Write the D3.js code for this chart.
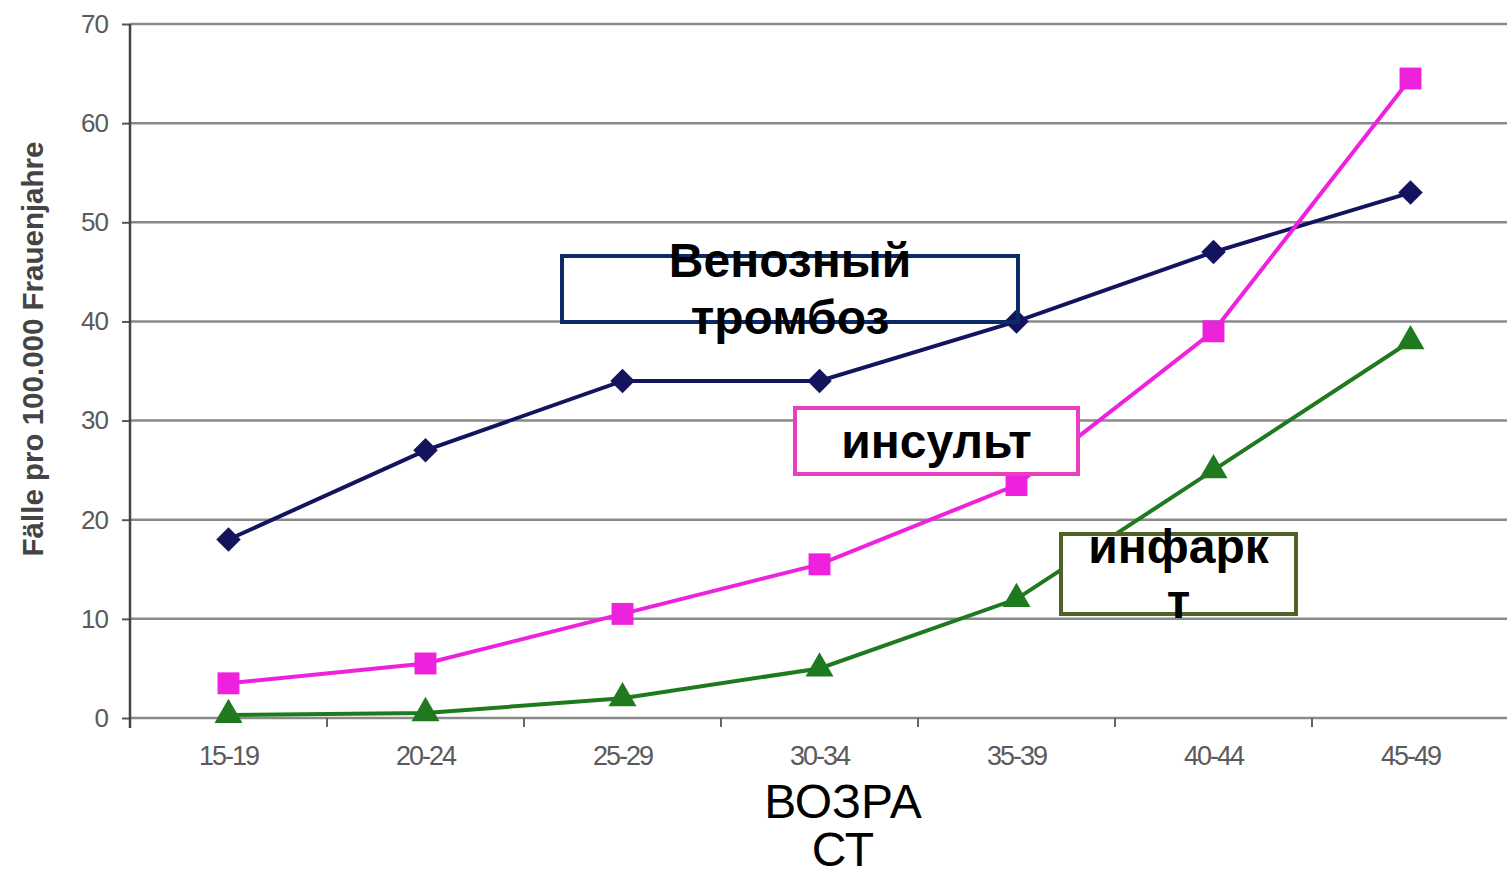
<!DOCTYPE html>
<html>
<head>
<meta charset="utf-8">
<script src="https://cdn.jsdelivr.net/npm/d3@7"></script>
<style>
  body { margin: 0; background: #fff; }
  svg { display: block; font-family: Arial, "Liberation Sans", sans-serif; }
</style>
</head>
<body>
<svg id="chart" width="1507" height="877"></svg>
<script>
// данные
const ages = ['15-19', '20-24', '25-29', '30-34', '35-39', '40-44', '45-49']
const venous = [18, 27, 34, 34, 40, 47, 53]
const stroke = [3.5, 5.5, 10.5, 15.5, 23.5, 39, 64.5]
const infarct = [0.3, 0.5, 2, 5, 12, 25, 38]
const yTicks = [0, 10, 20, 30, 40, 50, 60, 70]

const svg = d3.select('#chart')
const plotLeft = 130, plotRight = 1509, plotTop = 24, plotBottom = 718

const x = d3.scaleBand().domain(ages).range([plotLeft, plotRight])
const y = d3.scaleLinear().domain([0, 70]).range([plotBottom, plotTop])
const cx = d => x(d) + x.bandwidth() / 2

// сетка
svg.append('g').selectAll('line').data(yTicks).join('line')
    .attr('x1', plotLeft).attr('x2', 1507)
    .attr('y1', d => y(d)).attr('y2', d => y(d))
    .attr('stroke', '#8a8a8a').attr('stroke-width', 2.5)

// оси
const yAxis = d3.axisLeft(y).tickValues(yTicks).tickSize(8).tickPadding(14)
const yG = svg.append('g').attr('transform', `translate(${plotLeft},0)`).call(yAxis)
yG.select('.domain').remove()
yG.selectAll('line').attr('stroke', '#555').attr('stroke-width', 2)
yG.selectAll('text').attr('font-size', 26).attr('fill', '#5a5a5a')
    .style('letter-spacing', '-1px')

svg.append('line').attr('x1', plotLeft).attr('x2', plotLeft)
    .attr('y1', plotTop).attr('y2', plotBottom + 10)
    .attr('stroke', '#444').attr('stroke-width', 2.5)

const xAxis = d3.axisBottom(x).tickSize(0).tickPadding(28)
const xG = svg.append('g').attr('transform', `translate(0,${plotBottom})`).call(xAxis)
xG.select('.domain').remove()
xG.selectAll('text').attr('font-size', 27).attr('fill', '#5a5a5a')
    .style('letter-spacing', '-2px')
// малые деления между категориями
svg.append('g').selectAll('line').data(ages.slice(1)).join('line')
    .attr('x1', d => x(d)).attr('x2', d => x(d))
    .attr('y1', plotBottom).attr('y2', plotBottom + 9)
    .attr('stroke', '#666').attr('stroke-width', 2)

// подпись оси Y
svg.append('text')
    .attr('transform', 'translate(43,349) rotate(-90)')
    .attr('text-anchor', 'middle')
    .attr('font-size', 29.5).attr('font-weight', 'bold').attr('fill', '#444')
    .text('Fälle pro 100.000 Frauenjahre')

// линии
const series = [
    { values: venous, color: '#14145e', marker: d3.symbolSquare, size: 300, rotate: 45 },
    { values: stroke, color: '#ee22dd', marker: d3.symbolSquare, size: 480, rotate: 0 },
    { values: infarct, color: '#1f7a1f', marker: d3.symbolTriangle, size: 340, rotate: 0 }
]
const line = d3.line().x((d, i) => cx(ages[i])).y(d => y(d))

series.forEach(s => {
    svg.append('path').datum(s.values)
        .attr('d', line).attr('fill', 'none')
        .attr('stroke', s.color).attr('stroke-width', 4)
    svg.append('g').selectAll('path').data(s.values).join('path')
        .attr('transform', (d, i) => `translate(${cx(ages[i])},${y(d)}) rotate(${s.rotate})`)
        .attr('d', d3.symbol().type(s.marker).size(s.size))
        .attr('fill', s.color)
})

// подписи в рамках
const boxes = [
    { x: 562, y: 256, w: 456, h: 66, color: '#0b2a66', fill: 'none', lines: ['Венозный', 'тромбоз'], ty: [277, 334] },
    { x: 795, y: 408, w: 283, h: 66, color: '#e83fc0', fill: '#fff', lines: ['инсульт'], ty: [458] },
    { x: 1061, y: 534, w: 235, h: 80, color: '#4f6228', fill: '#fff', lines: ['инфарк', 'т'], ty: [563, 618] }
]
boxes.forEach(b => {
    svg.append('rect').attr('x', b.x).attr('y', b.y).attr('width', b.w).attr('height', b.h)
        .attr('fill', b.fill)
        .attr('stroke', b.color).attr('stroke-width', 4)
    b.lines.forEach((t, i) => {
        svg.append('text').attr('x', b.x + b.w / 2).attr('y', b.ty[i])
            .attr('text-anchor', 'middle').attr('font-size', 48).attr('font-weight', 'bold')
            .attr('fill', '#000').text(t)
    })
})

// подпись оси X
svg.append('text').attr('x', 843).attr('y', 818).attr('text-anchor', 'middle')
    .attr('font-size', 48).attr('fill', '#000').text('ВОЗРА')
svg.append('text').attr('x', 843).attr('y', 866).attr('text-anchor', 'middle')
    .attr('font-size', 48).attr('fill', '#000').text('СТ')
</script>
</body>
</html>
